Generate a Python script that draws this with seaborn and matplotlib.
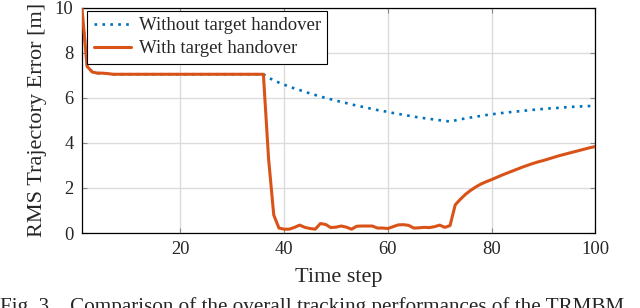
import matplotlib
matplotlib.use("Agg")
import matplotlib.pyplot as plt
import seaborn as sns
import numpy as np
import pandas as pd

# time steps 1..100
time_step = np.arange(1, 101)

# RMS error without target handover
without_handover = (
    [10.0, 7.4, 7.15, 7.1, 7.1, 7.08] + [7.05] * 30 +
    [6.9, 6.78, 6.68, 6.59, 6.5, 6.42, 6.35, 6.27, 6.2, 6.13,
     6.06, 6.0, 5.94, 5.88, 5.82, 5.77, 5.71, 5.66, 5.61, 5.56,
     5.51, 5.46, 5.42, 5.38, 5.33, 5.29, 5.25, 5.21, 5.17, 5.13,
     5.1, 5.07, 5.04, 5.01, 4.98, 4.95,
     5.0, 5.05, 5.09, 5.13, 5.17, 5.2, 5.24, 5.27, 5.3, 5.33,
     5.35, 5.38, 5.4, 5.42, 5.45, 5.47, 5.49, 5.51, 5.53, 5.54,
     5.56, 5.58, 5.59, 5.61, 5.62, 5.63, 5.64, 5.65]
)

# RMS error with target handover
with_handover = (
    [10.0, 7.4, 7.15, 7.1, 7.1, 7.08] + [7.05] * 30 +
    [3.3, 0.8, 0.22, 0.17, 0.17, 0.25, 0.35, 0.25, 0.2, 0.17,
     0.42, 0.38, 0.24, 0.26, 0.31, 0.26, 0.17, 0.3, 0.31, 0.31,
     0.31, 0.22, 0.22, 0.2, 0.28, 0.36, 0.37, 0.34, 0.22, 0.23,
     0.25, 0.24, 0.28, 0.35, 0.25, 0.33,
     1.25, 1.5, 1.72, 1.9, 2.05, 2.18, 2.28, 2.37, 2.47, 2.57,
     2.66, 2.75, 2.84, 2.93, 3.01, 3.09, 3.16, 3.22, 3.29, 3.36,
     3.43, 3.49, 3.55, 3.61, 3.67, 3.73, 3.79, 3.84]
)

x_ticks = [20, 40, 60, 80, 100]
y_ticks = [0, 2, 4, 6, 8, 10]

df = pd.DataFrame({"step": time_step,
                   "without": without_handover,
                   "with": with_handover})

sns.set_style("ticks")
plt.rcParams["font.family"] = ["Liberation Serif", "DejaVu Serif"]

fig = plt.figure(figsize=(6.4, 3.08), dpi=100)
ax = fig.add_axes([0.128, 0.2435, 0.802, 0.731])

sns.lineplot(data=df, x="step", y="without", ax=ax, color="#0072BD",
             linewidth=1.9, linestyle=(0, (1, 2)), dash_capstyle="butt",
             label="Without target handover", zorder=3)
sns.lineplot(data=df, x="step", y="with", ax=ax, color="#D95319",
             linewidth=2.2, label="With target handover", zorder=4)

ax.set_xlim(1, 100)
ax.set_ylim(0, 10)
ax.set_xticks(x_ticks)
ax.set_yticks(y_ticks)
ax.grid(True, color="#dcdcdc", linewidth=1.0)
ax.set_axisbelow(True)
for s in ax.spines.values():
    s.set_color("black")
    s.set_linewidth(0.9)
ax.tick_params(direction="in", top=True, right=True, length=3.5,
               color="#888888", labelsize=13.3, pad=6)
ax.set_xlabel("Time step", fontsize=16, labelpad=7)
ax.set_ylabel("RMS Trajectory Error [m]", fontsize=16, labelpad=6)

leg = ax.legend(loc="upper left", bbox_to_anchor=(0.01, 0.987),
                borderaxespad=0, fontsize=13.5, frameon=True, fancybox=False,
                edgecolor="black", framealpha=1, handlelength=2.0,
                labelspacing=0.3, borderpad=0.35, handletextpad=0.4)
leg.get_frame().set_linewidth(0.8)

# caption, cut off at the bottom edge as in the source image
fig.text(0.0, 1 - 297 / 308,
         "Fig. 3.   Comparison of the overall tracking performances of the TRMBM",
         fontsize=15.2, va="top", ha="left")

fig.savefig("out.png", dpi=100)
